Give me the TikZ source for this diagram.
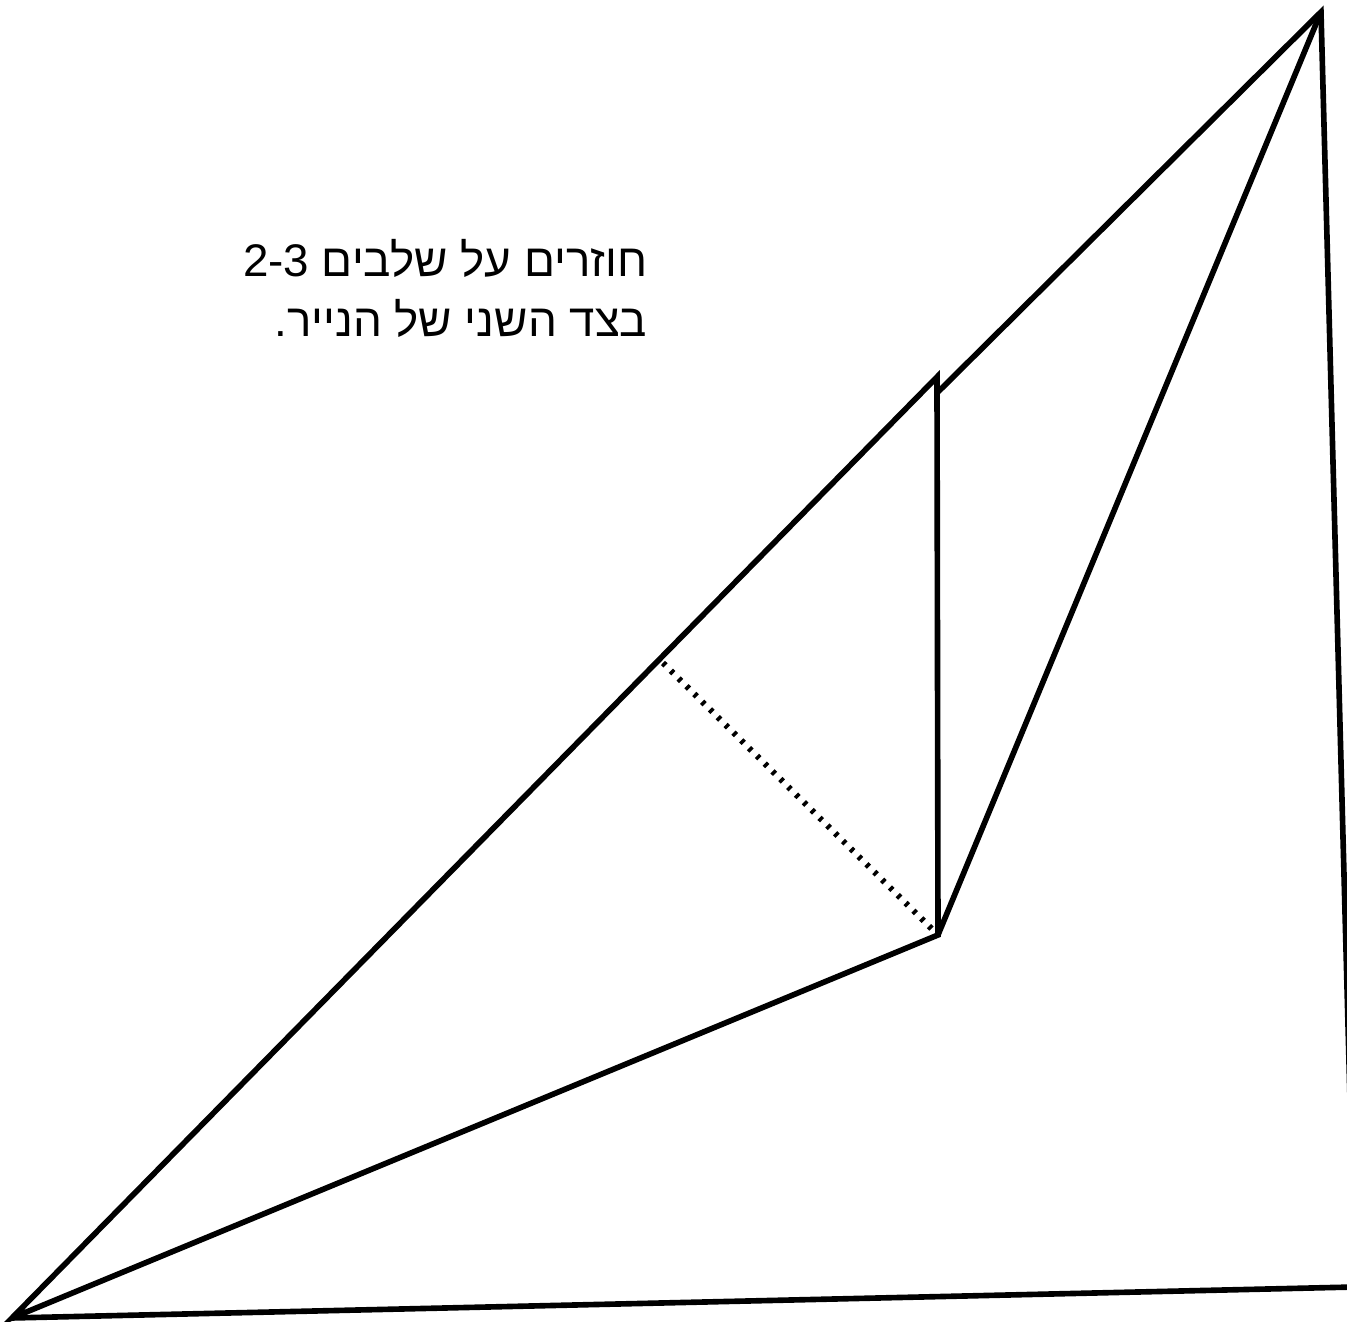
\documentclass[tikz,border=0pt]{standalone}
\usepackage{fontspec}
\TeXXeTstate=1
\newfontfamily\hebfont[Script=Hebrew]{Liberation Sans}
\begin{document}
\begin{tikzpicture}[x=0.01cm,y=-0.01cm,
  edge/.style={line width=1.6pt, line join=miter},
  fold/.style={line width=1.7pt, dash pattern=on 0.035cm off 0.075cm},
  label/.style={font=\hebfont\fontsize{13pt}{17pt}\selectfont, align=right, inner sep=0pt}]
\useasboundingbox (0,0) rectangle (1347,1322);
\clip (0,0) rectangle (1347,1322);
\coordinate (A) at (12,1318);
\coordinate (T) at (1321,12);
\coordinate (C) at (1355,1287);
\coordinate (P) at (937,377);
\coordinate (Q) at (938,392);
\coordinate (B) at (938,935);
\coordinate (D) at (663,663);
\draw[edge] (A) -- (P) -- (B) -- cycle;
\draw[edge] (Q) -- (T) -- (C) -- (A);
\draw[edge] (B) -- (T);
\draw[fold] (D) -- (B);
\node[label, anchor=north east] (txt) at (648,239) {\beginR חוזרים על שלבים \beginL 2-3\endL\endR\\\beginR בצד השני של הנייר.\endR};
\end{tikzpicture}
\end{document}
